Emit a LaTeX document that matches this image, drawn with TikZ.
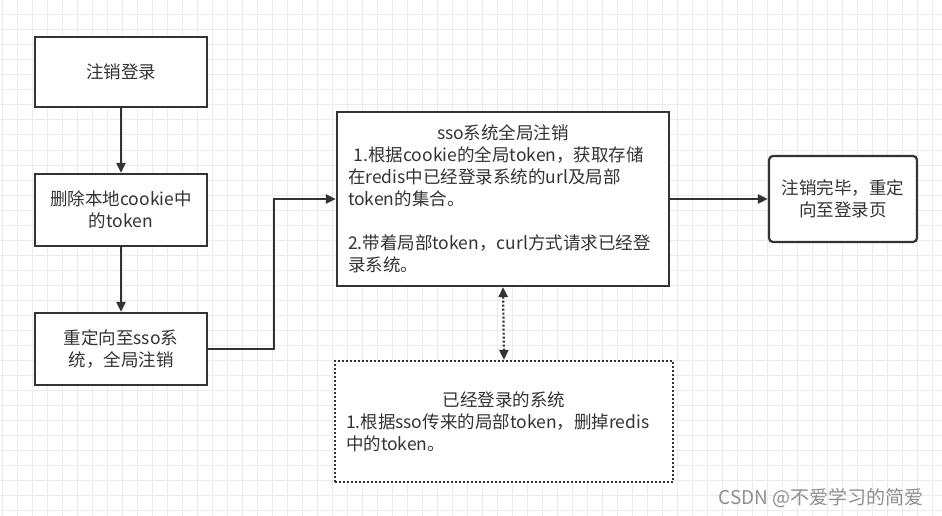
\documentclass[tikz,border=0pt]{standalone}
\usepackage{fontspec}
\setmainfont{Noto Sans CJK SC}
\usetikzlibrary{arrows.meta}
\definecolor{ink}{HTML}{333333}
\definecolor{gridc}{HTML}{EBEBEB}
\definecolor{wm}{HTML}{8F8F8F}
\begin{document}
\begin{tikzpicture}[x=1pt,y=-1pt,
  box/.style={draw=ink, line width=2.2pt, fill=white, text=ink, align=center,
    font=\fontsize{17.5}{22}\selectfont, inner sep=0pt},
  arr/.style={draw=ink, line width=2.2pt, -{Triangle[length=10pt,width=9pt]}},
  darr/.style={draw=ink, line width=2.2pt, dash pattern=on 2pt off 2pt,
    {Triangle[length=10pt,width=9pt]}-{Triangle[length=10pt,width=9pt]}}]
\useasboundingbox (0,0) rectangle (942,516);
\fill[white] (0,0) rectangle (942,516);
\foreach \i in {0,...,62} \draw[gridc, line width=1pt] (2.7+15*\i,0) -- (2.7+15*\i,516);
\foreach \j in {0,...,34} \draw[gridc, line width=1pt] (0,15*\j) -- (942,15*\j);

\node[box, minimum width=172pt, minimum height=70pt] (b1) at (121,72) {注销登录};
\node[box, minimum width=172pt, minimum height=72pt] (b2) at (121,210) {删除本地cookie中\\的token};
\node[box, minimum width=172pt, minimum height=72pt] (b3) at (121,349) {重定向至sso系\\统，全局注销};
\node[box, minimum width=332pt, minimum height=174pt, text width=310pt, align=left] (b4) at (503,199)
  {\makebox[310pt][c]{sso系统全局注销}\\
   \ 1.根据cookie的全局token，获取存储\\
   在redis中已经登录系统的url及局部\\
   token的集合。\\
   \mbox{}\\
   2.带着局部token，curl方式请求已经登\\
   录系统。};
\node[box, rounded corners=4pt, minimum width=148pt, minimum height=86pt] (b5) at (843,199) {注销完毕，重定\\向至登录页};
\node[box, dash pattern=on 2pt off 2pt, minimum width=338pt, minimum height=121pt, text width=316pt, align=left] (b6) at (504,421.5)
  {\makebox[316pt][c]{已经登录的系统}\\
   1.根据sso传来的局部token，删掉redis\\
   中的token。};

\draw[arr] (b1) -- (b2);
\draw[arr] (b2) -- (b3);
\draw[arr] (b3.east) -- ++(66,0) |- (b4.west);
\draw[arr] (b4.east) -- (b5.west);
\draw[darr] (b4.south) -- (b6.north);

\node[text=wm, font=\fontsize{19}{22}\selectfont] (wmk) at (821,498) {CSDN @不爱学习的简爱};
\end{tikzpicture}
\end{document}
